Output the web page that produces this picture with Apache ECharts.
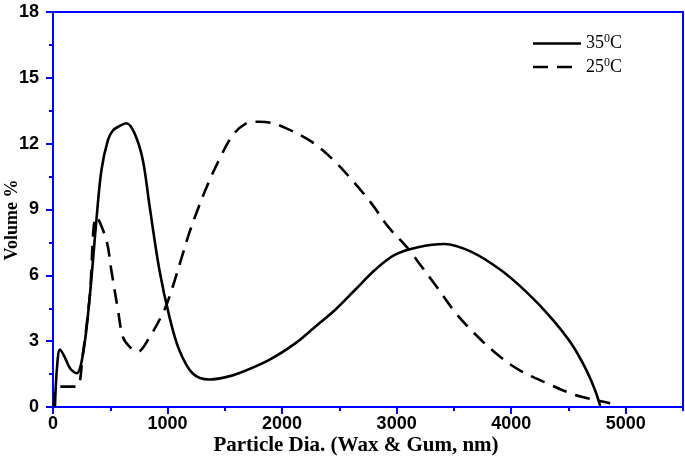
<!DOCTYPE html>
<html><head><meta charset="utf-8">
<script src="https://cdn.jsdelivr.net/npm/echarts@6/dist/echarts.min.js"></script>
<style>html,body{margin:0;padding:0;background:#fff}#c{width:685px;height:458px}</style>
</head><body><div id="c"></div>
<script>
const seriesNames = ['35°C', '25°C'];
const x35 = [17, 35, 61, 100, 150, 206, 263, 321, 379, 423, 480, 523, 580, 640, 712, 784, 842, 929, 1016, 1102, 1218, 1363, 1500, 1623, 1884, 2115, 2289, 2462, 2636, 2810, 2983, 3186, 3418, 3649, 3909, 4141, 4343, 4517, 4640, 4730, 4777];
const y35 = [0, 1.8, 2.62, 2.3, 1.75, 1.54, 2.45, 5.03, 8.52, 10.8, 12.17, 12.6, 12.8, 12.93, 12.47, 11.26, 9.2, 6.24, 4.12, 2.6, 1.54, 1.25, 1.35, 1.54, 2.14, 2.9, 3.66, 4.42, 5.33, 6.24, 6.93, 7.28, 7.43, 7.08, 6.24, 5.2, 4.1, 2.95, 1.85, 0.8, 0.05];
const x25 = [10, 30, 100, 206, 260, 320, 379, 466, 509, 567, 610, 668, 741, 828, 972, 1045, 1117, 1189, 1262, 1349, 1450, 1565, 1680, 1797, 1900, 2028, 2260, 2448, 2622, 2780, 2925, 3085, 3186, 3359, 3518, 3678, 3866, 4068, 4314, 4560, 4864];
const y25 = [0, 0.9, 0.93, 0.93, 2.4, 5.0, 8.67, 7.61, 6.24, 4.42, 3.2, 2.75, 2.52, 3.05, 4.42, 5.48, 6.7, 7.92, 8.98, 10.12, 11.26, 12.35, 12.9, 13.0, 12.95, 12.72, 12.08, 11.26, 10.27, 9.28, 8.22, 7.31, 6.62, 5.41, 4.27, 3.36, 2.45, 1.69, 1.08, 0.55, 0.17];
const xAxisTitle = 'Particle Dia. (Wax & Gum, nm)';
const yAxisTitle = 'Volume %';

const pairs = (xs, ys) => xs.map((x, i) => [x, ys[i]]);
const blue = '#0000ff';
const chart = echarts.init(document.getElementById('c'));
chart.setOption({
  animation: false,
  backgroundColor: '#fff',
  grid: { left: 53, right: 2, top: 12, bottom: 51, show: true, borderColor: blue, borderWidth: 2, backgroundColor: 'transparent', containLabel: false, outerBoundsMode: 'none' },
  legend: {
    orient: 'vertical', right: 58, top: 28, itemWidth: 48, itemHeight: 14, itemGap: 4,
    data: seriesNames,
    formatter: n => n.replace('°', '{sup|0}'),
    textStyle: { fontFamily: 'Liberation Serif', fontSize: 18, color: '#000',
      rich: { sup: { fontSize: 12, fontFamily: 'Liberation Serif', padding: [0, 0, 9, 0], color: '#000' } } },
    itemStyle: { opacity: 0 },
    lineStyle: { type: 'inherit', width: 2.6, color: '#000' }
  },
  graphic: [
    { type: 'text', x: 356, y: 446, silent: true,
      style: { text: xAxisTitle, font: 'bold 21px "Liberation Serif"', fill: '#000', align: 'center', verticalAlign: 'middle' } },
    { type: 'text', x: 12, y: 220, rotation: Math.PI / 2, silent: true,
      style: { text: yAxisTitle, font: 'bold 18px "Liberation Serif"', fill: '#000', align: 'center', verticalAlign: 'middle' } }
  ],
  xAxis: [{
    type: 'value', min: 0, max: 5500, interval: 1000,
    axisLine: { lineStyle: { color: blue, width: 2 } },
    axisTick: { length: 7, lineStyle: { color: blue, width: 2 } },
    axisLabel: { showMaxLabel: false, formatter: v => String(v), color: '#000', fontFamily: 'Liberation Sans', fontWeight: 'bold', fontSize: 18, margin: 8 },
    splitLine: { show: false }
  }, {
    type: 'value', min: 0, max: 5500, interval: 500, position: 'bottom',
    axisLine: { show: false },
    axisTick: { length: 4, lineStyle: { color: blue, width: 2 } },
    axisLabel: { show: false }, splitLine: { show: false }
  }],
  yAxis: {
    type: 'value', min: 0, max: 18, interval: 3,
    axisLine: { show: true, lineStyle: { color: blue, width: 2 } },
    axisTick: { show: true, length: 7, lineStyle: { color: blue, width: 2 } },
    minorTick: { show: true, splitNumber: 2, length: 4, lineStyle: { color: blue, width: 2 } },
    axisLabel: { formatter: v => String(v), color: '#000', fontFamily: 'Liberation Sans', fontWeight: 'bold', fontSize: 18, margin: 14 },
    splitLine: { show: false }
  },
  series: [
    { name: seriesNames[0], type: 'line', xAxisIndex: 0, data: pairs(x35, y35), smooth: 0.35, symbol: 'none',
      lineStyle: { color: '#000', width: 2.6, type: 'solid' }, itemStyle: { color: '#000' } },
    { name: seriesNames[1], type: 'line', xAxisIndex: 0, data: pairs(x25, y25), smooth: 0.35, symbol: 'none',
      lineStyle: { color: '#000', width: 2.6, type: [15, 9] }, itemStyle: { color: '#000' } }
  ]
});
</script></body></html>
